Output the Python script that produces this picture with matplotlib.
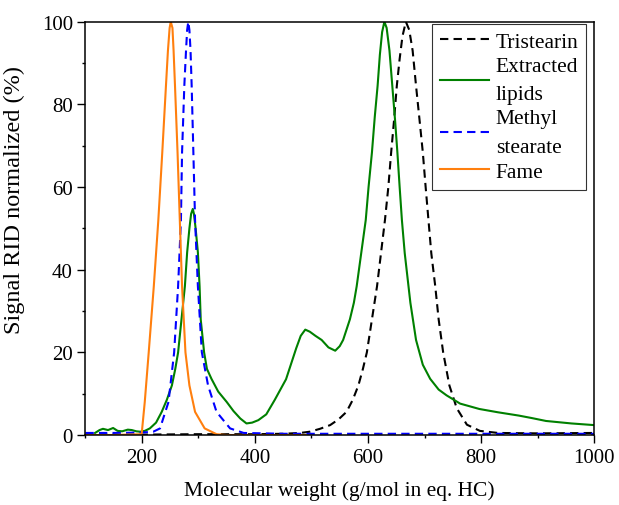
import matplotlib
matplotlib.use('Agg')
from matplotlib import pyplot as plt

plt.rcParams['font.family'] = ['Liberation Serif', 'DejaVu Serif']

# Tristearin (black dashed)
tri_x = [100, 200, 300, 400, 450, 480, 497, 515, 533, 548, 562, 573, 583, 591, 598, 607, 616,
         623, 630, 636, 641, 646, 651, 656, 661, 667, 673, 679, 685, 691, 697, 702, 707,
         712, 719, 725, 733, 744, 757, 775, 798, 830, 900, 1000]
tri_y = [0.1, 0.1, 0.2, 0.2, 0.3, 0.5, 0.8, 1.5, 2.4, 3.8, 5.6, 8.5, 12, 16, 20, 28, 36,
         44, 52, 60, 68.4, 76, 84.5, 91, 96.5, 100, 98, 93, 84.5, 76.5, 68.4, 60, 52,
         44, 36, 28, 20, 12, 6.5, 2.5, 1.0, 0.5, 0.4, 0.5]

# Extracted lipids (green)
lip_x = [117, 125, 131, 140, 149, 157, 165, 175, 182, 190, 197, 205, 214, 225, 235, 244, 253,
         259, 264, 270, 276, 280, 284, 287, 290, 292, 295, 299, 302, 304, 310, 315, 323,
         335, 350, 362, 374, 385, 395, 406, 420, 435, 455, 473, 481, 489, 497, 507, 518,
         530, 542, 550, 556, 562, 568, 575, 580, 588, 596, 601, 607, 612, 617, 621, 625,
         629, 633, 638, 643, 648, 652, 656, 660, 665, 670, 675, 685, 697, 710, 725, 739,
         763, 797, 830, 867, 890, 915, 960, 1000]
lip_y = [0.5, 1.2, 1.5, 1.2, 1.7, 1.0, 0.9, 1.3, 1.2, 0.9, 0.8, 1.0, 1.6, 3.0, 5.6, 8.5, 12,
         16, 20, 28, 36, 44.2, 50, 53.5, 54.7, 53.5, 50, 44.2, 36, 28, 20, 16, 13.6,
         10.5, 8.0, 5.8, 4.0, 2.8, 3.0, 3.6, 5.0, 8.5, 13.5, 21, 24, 25.5, 25, 24, 23,
         21.2, 20.4, 21.5, 23, 25.5, 28, 32, 36, 44, 52, 60, 68.4, 77, 84.5, 92, 97.5,
         100, 98.5, 93, 84.5, 76, 68.4, 60, 52, 44, 38, 32, 23, 17, 13.6, 11, 9.6,
         7.6, 6.3, 5.5, 4.7, 4.1, 3.4, 2.8, 2.4]

# Methyl stearate (blue dashed)
mst_x = [100, 150, 200, 220, 232, 247, 257, 264, 269, 271, 275, 278, 280, 282, 284, 286, 288,
         291, 294, 299, 306, 317, 332, 356, 380, 450, 600, 800, 1000]
mst_y = [0.5, 0.5, 0.6, 0.8, 1.6, 8.0, 20, 36, 52, 68.4, 84.5, 93, 98, 100, 98, 93, 84.5,
         68.4, 52, 36, 20, 12, 5.6, 1.6, 0.5, 0.3, 0.3, 0.3, 0.3]

# Fame (orange)
fam_x = [100, 150, 199.5, 205, 212, 221, 229, 236, 242.5, 246, 249, 251, 254, 256, 258.5,
         263, 267, 271, 277, 284, 294, 311, 332, 350, 400, 490]
fam_y = [0, 0, 0.2, 8, 20, 36, 52, 68.4, 84.5, 93, 98.5, 100, 98.5, 93, 84.5,
         68.4, 52, 36, 20, 12, 5.6, 1.6, 0.2, 0, 0, 0]

fig = plt.figure(figsize=(6.19, 5.06), dpi=100)
ax = fig.add_axes([0.138, 0.1383, 0.8217, 0.8168])

dash = (0, (4, 2.5))
ax.plot(tri_x, tri_y, color='black', lw=1.5, ls=dash, label='Tristearin')
ax.plot(lip_x, lip_y, color='green', lw=1.5, label='Extracted\nlipids')
ax.plot(mst_x, mst_y, color='blue', lw=1.5, ls=dash, label='Methyl\nstearate')
ax.plot(fam_x, fam_y, color='#ff7f0e', lw=1.5, label='Fame')

ax.set_xlim(100, 1000)
ax.set_ylim(0, 100)
ax.set_xticks([200, 400, 600, 800, 1000])
ax.set_xticks([100, 300, 500, 700, 900], minor=True)
ax.set_yticks([0, 20, 40, 60, 80, 100])
ax.set_yticks([10, 30, 50, 70, 90], minor=True)
ax.tick_params(which='both', direction='out', labelsize=15, width=1)
ax.tick_params(which='major', length=5.5)
ax.tick_params(which='minor', length=2.5)
for sp in ax.spines.values():
    sp.set_linewidth(1.1)

ax.set_xlabel('Molecular weight (g/mol in eq. HC)', fontsize=15.5, labelpad=10)
ax.set_ylabel('Signal RID normalized (%)', fontsize=17.5)
ax.yaxis.set_label_coords(-0.119, 0.571)

leg = ax.legend(loc='upper right', bbox_to_anchor=(0.984, 0.9945), borderaxespad=0,
                fontsize=15.5, frameon=True, fancybox=False, edgecolor='black',
                handlelength=2.3, handletextpad=0.3, labelspacing=0.25, borderpad=0.35)
leg.get_frame().set_linewidth(0.8)
for t in leg.get_texts():
    t.set_linespacing(1.65)

fig.savefig('out.png', dpi=100)
